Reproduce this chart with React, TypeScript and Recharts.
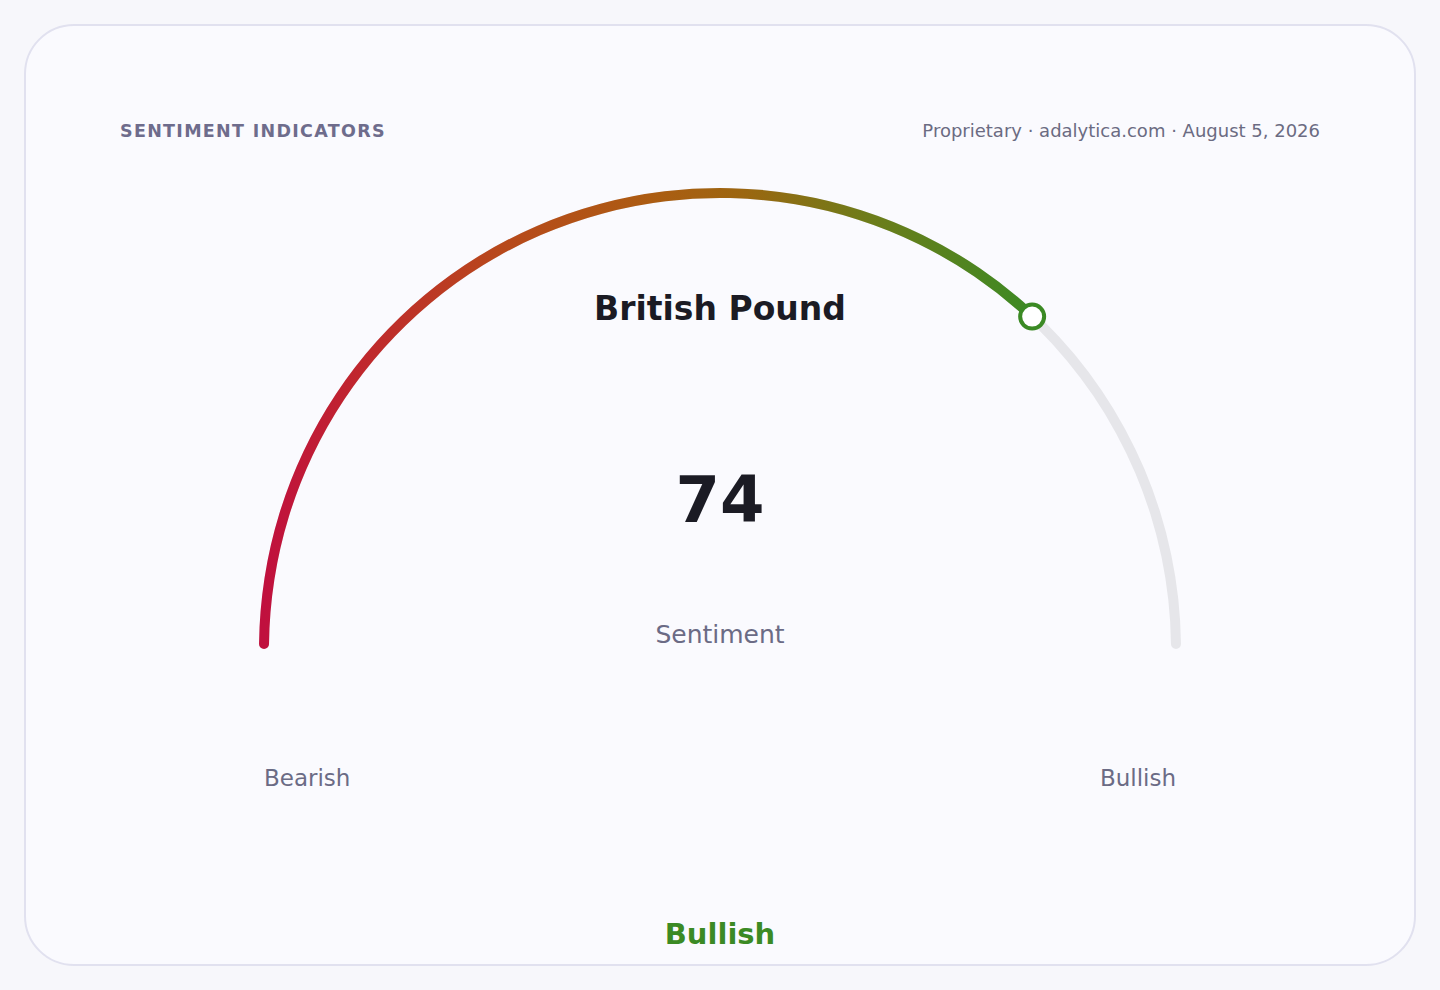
import React from 'react';
import { PieChart, Pie, Cell } from 'recharts';

const title = 'SENTIMENT INDICATORS';
const source = 'Proprietary · adalytica.com · August 5, 2026';
const assetName = 'British Pound';
const metricLabel = 'Sentiment';
const sentimentValue = 74;
const scaleMax = 100;
const scaleLabels = ['Bearish', 'Bullish'];
const verdict = 'Bullish';

const valueData = [
  { name: 'value', value: sentimentValue },
  { name: 'rest', value: scaleMax - sentimentValue },
];
const trackData = [{ name: 'track', value: scaleMax }];

const FONT = '"DejaVu Sans", Verdana, sans-serif';
const GREEN = '#3b8a24';

const CX = 720;
const CY = 649;
const R_IN = 451;
const R_OUT = 461;

const MarkerLabel = (props: any) => {
  const { index, cx, cy, endAngle, innerRadius, outerRadius } = props;
  if (index !== 0) return null;
  const r = (innerRadius + outerRadius) / 2;
  const a = (endAngle * Math.PI) / 180;
  const x = cx + r * Math.cos(a);
  const y = cy - r * Math.sin(a);
  return <circle cx={x} cy={y} r={12} fill="#ffffff" stroke={GREEN} strokeWidth={4} />;
};

export default function App() {
  return (
    <div style={{ position: 'absolute', left: 0, top: 0, width: 1440, height: 990, background: '#f7f7fb', fontFamily: FONT }}>
      <div
        style={{
          position: 'absolute',
          left: 24,
          top: 24,
          width: 1388,
          height: 938,
          border: '2px solid #e1e1ef',
          borderRadius: 50,
          background: '#fafafe',
        }}
      />
      <div style={{ position: 'absolute', left: 0, top: 0 }}>
        <PieChart width={1440} height={990} margin={{ top: 0, right: 0, bottom: 0, left: 0 }}>
          <defs>
            <linearGradient id="sentGrad" gradientUnits="userSpaceOnUse" x1={264} y1={0} x2={1036} y2={0}>
              <stop offset="0%" stopColor="#c0103e" />
              <stop offset="12%" stopColor="#c0262e" />
              <stop offset="30%" stopColor="#b8481c" />
              <stop offset="50%" stopColor="#ac5c12" />
              <stop offset="62%" stopColor="#9c6610" />
              <stop offset="78%" stopColor="#6e7c1a" />
              <stop offset="100%" stopColor="#3b8a24" />
            </linearGradient>
          </defs>
          <Pie
            data={trackData}
            dataKey="value"
            cx={CX}
            cy={CY}
            startAngle={180}
            endAngle={0}
            innerRadius={R_IN}
            outerRadius={R_OUT}
            cornerRadius={5}
            stroke="none"
            isAnimationActive={false}
          >
            <Cell fill="#e6e6ea" />
          </Pie>
          <Pie
            data={valueData}
            dataKey="value"
            cx={CX}
            cy={CY}
            startAngle={180}
            endAngle={0}
            innerRadius={R_IN}
            outerRadius={R_OUT}
            cornerRadius={5}
            stroke="none"
            isAnimationActive={false}
            label={MarkerLabel}
            labelLine={false}
          >
            <Cell fill="url(#sentGrad)" />
            <Cell fill="transparent" />
          </Pie>
          <text x={120} y={137} fontFamily={FONT} fontSize={17.5} fontWeight="bold" letterSpacing={1.3} fill="#6e6c8c">
            {title}
          </text>
          <text x={1320} y={137} textAnchor="end" fontFamily={FONT} fontSize={18} fill="#6b6b82">
            {source}
          </text>
          <text x={720} y={320} textAnchor="middle" fontFamily={FONT} fontSize={33} fontWeight="bold" fill="#1b1b24">
            {assetName}
          </text>
          <text x={720} y={522} textAnchor="middle" fontFamily={FONT} fontSize={64} fontWeight="bold" fill="#1b1b24">
            {sentimentValue}
          </text>
          <text x={720} y={643} textAnchor="middle" fontFamily={FONT} fontSize={25} fill="#6b6b85">
            {metricLabel}
          </text>
          <text x={264} y={786} textAnchor="start" fontFamily={FONT} fontSize={23} fill="#6b6b85">
            {scaleLabels[0]}
          </text>
          <text x={1176} y={786} textAnchor="end" fontFamily={FONT} fontSize={23} fill="#6b6b85">
            {scaleLabels[1]}
          </text>
          <text x={720} y={944} textAnchor="middle" fontFamily={FONT} fontSize={29} fontWeight="bold" fill={GREEN}>
            {verdict}
          </text>
        </PieChart>
      </div>
    </div>
  );
}
